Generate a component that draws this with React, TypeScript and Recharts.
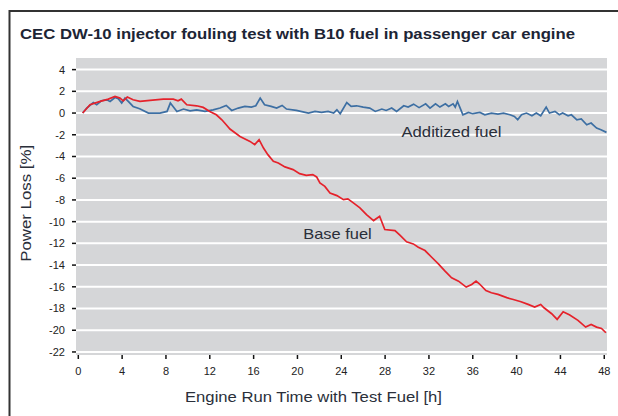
import React from "react";
import { LineChart, Line, XAxis, YAxis, CartesianGrid } from "recharts";

const additizedHours = [
  0.4, 0.77, 1.37, 1.68, 2.1, 2.6, 2.9, 3.35, 3.65, 3.96, 4.26, 4.56, 5.0, 5.6, 6.4, 7.45, 8.1, 8.4, 9.0, 9.6,
  10.2, 10.8, 11.56, 12.3, 12.93, 13.5, 14.0, 14.6, 15.2, 15.8, 16.2, 16.6, 17.0, 17.6, 18.1, 18.6, 19.0, 19.9,
  21.0, 21.6, 22.2, 22.8, 23.3, 23.6, 23.9, 24.5, 24.9, 25.4, 26.0, 26.6, 27.1, 27.7, 28.1, 28.6, 29.05, 29.7,
  30.1, 30.6, 31.1, 31.7, 32.1, 32.6, 33.0, 33.5, 33.8, 34.2, 34.4, 34.6, 34.85, 35.1, 35.6, 36.0, 36.65, 37.1,
  37.7, 38.3, 38.8, 39.4, 39.8, 40.1, 40.45, 40.9, 41.4, 41.8, 42.2, 42.7, 43.0, 43.5, 43.9, 44.2, 44.7, 45.0,
  45.5, 45.9, 46.4, 46.8, 47.3, 47.7, 48.2,
];
const additizedValues = [
  0, 0.46, 0.97, 0.76, 1.13, 1.22, 1.07, 1.43, 1.31, 0.92, 1.38, 1.07, 0.61, 0.4, 0, 0, 0.15, 0.92, 0.15, 0.37,
  0.21, 0.3, 0.15, 0.3, 0.46, 0.7, 0.24, 0.46, 0.61, 0.55, 0.67, 1.38, 0.76, 0.61, 0.46, 0.7, 0.37, 0.24,
  0, 0.15, 0.06, 0.15, 0, 0.3, -0.06, 0.97, 0.61, 0.67, 0.55, 0.46, 0.15, 0.37, 0.24, 0.46, 0.15, 0.67,
  0.55, 0.82, 0.5, 0.85, 0.46, 0.85, 0.55, 0.85, 0.61, 0.85, 0.55, 1.07, 0.46, -0.16, 0.06, -0.06, 0.06, -0.16,
  0, -0.09, 0, -0.16, -0.31, -0.62, -0.16, 0, -0.25, 0, -0.25, 0.55, 0, 0.15, -0.16, 0, -0.25, -0.16,
  -0.62, -0.55, -1.08, -0.92, -1.38, -1.53, -1.78,
];

const baseHours = [
  0.4, 1.07, 2.0, 2.74, 3.35, 3.8, 4.1, 4.47, 5.0, 5.63, 6.54, 7.76, 8.67, 9.1, 9.4, 9.9, 10.8, 11.4, 12.0, 12.6,
  13.1, 13.5, 13.84, 14.76, 15.67, 16.1, 16.5, 16.9, 17.3, 17.8, 18.25, 18.86, 19.6, 20.2, 20.8, 21.4, 21.75,
  22.05, 22.5, 22.97, 23.6, 24.2, 24.6, 25.1, 25.7, 26.3, 26.95, 27.5, 27.97, 28.9, 29.35, 29.96, 30.57, 31.03,
  31.64, 32.25, 32.86, 33.47, 34.07, 34.7, 35.4, 35.9, 36.3, 36.6, 37.2, 37.7, 38.3, 39.1, 39.7, 40.4, 41.05,
  41.65, 42.2, 42.5, 43.2, 43.7, 44.25, 44.85, 45.6, 46.3, 46.8, 47.3, 47.75, 48.15,
];
const baseValues = [
  0, 0.76, 1.07, 1.28, 1.53, 1.38, 1.13, 1.47, 1.22, 1.07, 1.16, 1.28, 1.28, 1.13, 1.28, 0.76, 0.67, 0.52, 0.15, -0.16,
  -0.62, -1.08, -1.47, -2.15, -2.61, -2.91, -2.45, -3.22, -3.83, -4.45, -4.6, -4.96, -5.21, -5.58, -5.74, -5.67, -5.88,
  -6.44, -6.75, -7.36, -7.6, -7.97, -7.9, -8.27, -8.73, -9.35, -9.9, -9.5, -10.73, -10.82, -11.25, -11.86, -12.05, -12.36,
  -12.66, -13.28, -13.89, -14.56, -15.17, -15.48, -16.03, -15.79, -15.48, -15.72, -16.34, -16.55, -16.7, -17.0, -17.17, -17.38, -17.62,
  -17.87, -17.62, -17.93, -18.48, -19.0, -18.3, -18.6, -19.09, -19.71, -19.46, -19.71, -19.83, -20.23,
];

const xTicks = [0, 4, 8, 12, 16, 20, 24, 28, 32, 36, 40, 44, 48];
const yTicks = [-22, -20, -18, -16, -14, -12, -10, -8, -6, -4, -2, 0, 2, 4];

const titleText = "CEC DW-10 injector fouling test with B10 fuel in passenger car engine";
const xAxisTitle = "Engine Run Time with Test Fuel [h]";
const yAxisTitle = "Power Loss [%]";
const additizedLabel = "Additized fuel";
const baseLabel = "Base fuel";

const additizedData = additizedHours.map((h, i) => ({ h, v: additizedValues[i] }));
const baseData = baseHours.map((h, i) => ({ h, v: baseValues[i] }));

const FONT = "'Liberation Sans', Arial, Helvetica, sans-serif";
const tickStyle = { fill: "#222", fontSize: 11, fontFamily: FONT };

export default function App() {
  return (
    <div style={{ position: "absolute", left: 0, top: 0, width: 618, height: 416, background: "#fff" }}>
      <LineChart width={618} height={416} margin={{ top: 58, right: 11, bottom: 31, left: 16 }}>
        <CartesianGrid fill="#d5d6d8" stroke="#ffffff" strokeWidth={2} vertical={false} horizontalValues={yTicks} />
        <XAxis
          type="number"
          dataKey="h"
          domain={[-0.21, 48.25]}
          ticks={xTicks}
          allowDataOverflow
          axisLine={false}
          tickLine={{ stroke: "#111", strokeWidth: 1.5 }}
          tickSize={4}
          tickMargin={8}
          height={30}
          tick={tickStyle}
          interval={0}
        />
        <YAxis
          type="number"
          domain={[-22.28, 5.07]}
          ticks={yTicks}
          allowDataOverflow
          axisLine={false}
          tickLine={{ stroke: "#111", strokeWidth: 1.5 }}
          tickSize={4}
          tickMargin={7}
          width={60}
          tick={tickStyle}
          interval={0}
        />
        <Line
          data={additizedData}
          dataKey="v"
          type="linear"
          stroke="#3d6fa3"
          strokeWidth={1.7}
          dot={false}
          isAnimationActive={false}
        />
        <Line
          data={baseData}
          dataKey="v"
          type="linear"
          stroke="#e5222b"
          strokeWidth={1.7}
          dot={false}
          isAnimationActive={false}
        />
      </LineChart>
      <svg
        width={618}
        height={416}
        style={{ position: "absolute", left: 0, top: 0, pointerEvents: "none" }}
      >
        <path d="M9.5 430 L9.5 11 L630 11" fill="none" stroke="#333" strokeWidth={2} />
        <text x={20} y={39.3} fontFamily={FONT} fontSize={14} fontWeight="bold" fill="#1d2535" textLength={555} lengthAdjust="spacingAndGlyphs">
          {titleText}
        </text>
        <text x={185} y={401.5} fontFamily={FONT} fontSize={15.5} fill="#2a2f3a" textLength={257} lengthAdjust="spacingAndGlyphs">
          {xAxisTitle}
        </text>
        <text
          x={0}
          y={0}
          transform="translate(31,203.3) rotate(-90)"
          textAnchor="middle"
          fontFamily={FONT}
          fontSize={15.5}
          fill="#2a2f3a"
          textLength={117}
          lengthAdjust="spacingAndGlyphs"
        >
          {yAxisTitle}
        </text>
        <text x={401.5} y={137} fontFamily={FONT} fontSize={14.5} fill="#2a2f3a" textLength={100} lengthAdjust="spacingAndGlyphs">
          {additizedLabel}
        </text>
        <text x={303.3} y={239.3} fontFamily={FONT} fontSize={14.5} fill="#2a2f3a" textLength={68.4} lengthAdjust="spacingAndGlyphs">
          {baseLabel}
        </text>
      </svg>
    </div>
  );
}
